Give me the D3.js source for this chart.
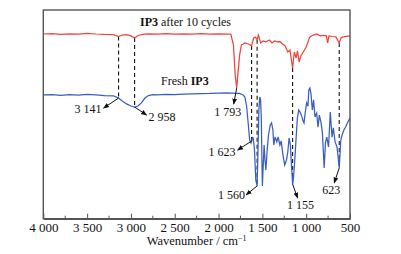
<!DOCTYPE html>
<html lang="en">
<head>
<meta charset="UTF-8">
<title>FTIR IP3</title>
<style>
  body { margin: 0; background: #fff; }
  text { font-family: "Liberation Serif", "DejaVu Serif", serif; fill: #111; }
</style>
</head>
<body>
<svg id="chart" width="401" height="254"></svg>
<script src="https://d3js.org/d3.v7.min.js"></script>
<script>
// after 10 cycles (red) - wavenumber / cm-1 and relative transmittance
const cycledWn = [4000, 3900, 3800, 3700, 3600, 3500, 3400, 3300, 3200, 3141, 3100, 3050, 3000, 2958, 2920, 2850, 2800, 2700, 2600, 2500, 2400, 2300, 2200, 2100, 2000, 1900, 1860, 1830, 1810, 1793, 1780, 1760, 1740, 1700, 1660, 1623, 1600, 1580, 1560, 1545, 1520, 1490, 1460, 1420, 1390, 1360, 1330, 1300, 1270, 1240, 1210, 1185, 1155, 1135, 1115, 1100, 1080, 1060, 1040, 1000, 960, 920, 880, 840, 800, 770, 755, 740, 700, 660, 623, 600, 560, 500];
const cycledT = [88.5, 88.7, 88.3, 88.6, 88.4, 88.8, 88.5, 88.3, 88.2, 87.3, 88.0, 88.2, 87.6, 86.6, 87.8, 88.4, 88.6, 88.5, 88.7, 88.4, 88.6, 88.5, 88.7, 88.5, 88.6, 88.5, 88.5, 83.2, 68.9, 62.6, 68.9, 78.4, 83.2, 84.2, 83.7, 82.8, 86.6, 87.0, 85.8, 88.0, 84.2, 85.2, 84.7, 85.6, 84.2, 85.2, 84.7, 84.9, 83.7, 82.8, 79.9, 80.8, 72.2, 79.9, 77.0, 80.4, 75.1, 78.0, 79.4, 82.3, 87.0, 88.0, 88.5, 87.6, 87.8, 87.6, 84.2, 87.6, 87.3, 87.1, 84.2, 86.8, 87.3, 87.6];

// fresh sample (blue)
const freshWn = [4000, 3900, 3800, 3700, 3600, 3500, 3400, 3300, 3200, 3141, 3100, 3050, 3000, 2958, 2920, 2880, 2840, 2800, 2750, 2700, 2600, 2500, 2400, 2300, 2200, 2100, 2000, 1900, 1800, 1760, 1720, 1700, 1680, 1660, 1645, 1630, 1623, 1610, 1600, 1590, 1575, 1560, 1550, 1540, 1530, 1520, 1512, 1505, 1500, 1490, 1480, 1470, 1460, 1445, 1430, 1410, 1395, 1380, 1370, 1355, 1335, 1320, 1300, 1285, 1265, 1245, 1225, 1210, 1195, 1180, 1168, 1155, 1145, 1130, 1115, 1100, 1085, 1070, 1055, 1035, 1025, 1010, 995, 980, 970, 958, 945, 930, 915, 900, 880, 865, 850, 830, 815, 795, 780, 765, 745, 725, 705, 690, 670, 648, 623, 605, 590, 570, 550, 530, 500];
const freshT = [59.3, 59.5, 59.1, 59.4, 59.2, 59.6, 59.3, 59.0, 58.9, 57.8, 56.4, 55.0, 54.0, 53.5, 54.0, 55.5, 57.8, 59.0, 59.5, 59.3, 59.6, 59.4, 59.7, 59.8, 59.9, 60.0, 60.2, 60.3, 60.1, 60.0, 59.3, 58.3, 54.0, 44.9, 37.7, 36.3, 37.2, 39.2, 37.2, 32.9, 18.5, 15.7, 32.9, 52.1, 58.3, 56.9, 47.3, 28.1, 15.7, 25.7, 35.3, 28.1, 23.3, 32.9, 40.1, 44.9, 45.9, 42.5, 35.3, 39.2, 36.8, 39.2, 35.3, 37.2, 30.5, 25.7, 28.1, 31.9, 38.7, 35.3, 25.7, 16.6, 19.5, 28.1, 38.7, 48.3, 52.1, 51.1, 49.6, 46.8, 45.9, 51.1, 55.5, 53.9, 61.7, 62.6, 59.8, 52.1, 56.9, 48.7, 50.6, 43.9, 49.6, 45.9, 41.1, 24.3, 36.3, 39.1, 34.4, 51.1, 39.1, 43.5, 36.8, 34.4, 24.3, 37.7, 40.1, 42.5, 43.9, 45.9, 48.3];

const xTicks = [4000, 3500, 3000, 2500, 2000, 1500, 1000, 500];
const xMinorTicks = [3750, 3250, 2750, 2250, 1750, 1250, 750];

// marked bands joined by dashed lines
const bandWn = [3141, 2958, 1623, 1560, 1155, 623];

// labelled peaks: which curve, arrow end offset, label offset (pixels from the peak point)
const labels = [
  { wn: 3141, series: "fresh", text: "3 141", ax: -15, ay: 10, tx: -17, ty: 15, anchor: "end" },
  { wn: 2958, series: "fresh", text: "2 958", ax: 12, ay: 8, tx: 14, ty: 14, anchor: "start" },
  { wn: 1793, series: "cycled", text: "1 793", ax: -3, ay: 16, tx: -9, ty: 28, anchor: "middle" },
  { wn: 1623, series: "fresh", text: "1 623", ax: -14, ay: 9, tx: -16, ty: 15, anchor: "end" },
  { wn: 1560, series: "fresh", text: "1 560", ax: -11, ay: 9, tx: -12, ty: 13, anchor: "end" },
  { wn: 1155, series: "fresh", text: "1 155", ax: 5, ay: 14, tx: 8, ty: 25, anchor: "middle" },
  { wn: 623, series: "fresh", text: "623", ax: -5, ay: 15, tx: -8, ty: 26, anchor: "middle" }
];

const svg = d3.select("#chart");
const plotLeft = 43.3, plotRight = 350, plotTop = 10, plotBottom = 218.7;

const x = d3.scaleLinear().domain([4000, 500]).range([plotLeft, plotRight]);
const y = d3.scaleLinear().domain([0, 100]).range([plotBottom, plotTop]);

const cycled = cycledWn.map((w, i) => ({ wn: w, t: cycledT[i] }));
const fresh = freshWn.map((w, i) => ({ wn: w, t: freshT[i] }));
const seriesMap = { cycled: cycled, fresh: fresh };

// linear lookup of a curve value at a wavenumber
function valueAt(data, wn) {
  for (let i = 0; i < data.length - 1; i++) {
    const a = data[i], b = data[i + 1];
    if (wn <= a.wn && wn >= b.wn) {
      const f = (a.wn - wn) / (a.wn - b.wn);
      return a.t + f * (b.t - a.t);
    }
  }
  return data[data.length - 1].t;
}

svg.append("defs").append("marker")
  .attr("id", "head")
  .attr("viewBox", "0 0 10 10")
  .attr("refX", 9).attr("refY", 5)
  .attr("markerWidth", 6).attr("markerHeight", 6)
  .attr("orient", "auto")
  .append("path")
  .attr("d", "M0,1 L10,5 L0,9 Z")
  .attr("fill", "#111");

// dashed band lines
svg.selectAll(".band")
  .data(bandWn)
  .enter()
  .append("line")
  .attr("x1", d => x(d)).attr("x2", d => x(d))
  .attr("y1", d => y(valueAt(cycled, d)))
  .attr("y2", d => y(valueAt(fresh, d)))
  .attr("stroke", "#111")
  .attr("stroke-width", 1.1)
  .attr("stroke-dasharray", "4,3");

const line = d3.line().x(d => x(d.wn)).y(d => y(d.t));

svg.append("path").datum(cycled)
  .attr("d", line)
  .attr("fill", "none")
  .attr("stroke", "#f2433a")
  .attr("stroke-width", 1.25);

svg.append("path").datum(fresh)
  .attr("d", line)
  .attr("fill", "none")
  .attr("stroke", "#3a5ec0")
  .attr("stroke-width", 1.25);

// frame
svg.append("rect")
  .attr("x", plotLeft).attr("y", plotTop)
  .attr("width", plotRight - plotLeft).attr("height", plotBottom - plotTop)
  .attr("fill", "none")
  .attr("stroke", "#555")
  .attr("stroke-width", 1.4);

// bottom axis, ticks pointing in
const xAxis = d3.axisBottom(x)
  .tickValues(xTicks)
  .tickSizeInner(-5)
  .tickSizeOuter(0)
  .tickPadding(4)
  .tickFormat(d => d3.format(",")(d).replace(",", " "));

const gx = svg.append("g")
  .attr("transform", `translate(0,${plotBottom})`)
  .call(xAxis);
gx.select(".domain").attr("stroke", "#555").attr("stroke-width", 1.4);
gx.selectAll(".tick line").attr("stroke", "#555");
gx.selectAll(".tick text")
  .attr("font-family", "Liberation Serif")
  .attr("font-size", 13)
  .attr("fill", "#111");

svg.append("g").selectAll("line")
  .data(xMinorTicks)
  .enter()
  .append("line")
  .attr("x1", d => x(d)).attr("x2", d => x(d))
  .attr("y1", plotBottom).attr("y2", plotBottom - 3)
  .attr("stroke", "#555");

const xt = svg.append("text")
  .attr("x", (plotLeft + plotRight) / 2)
  .attr("y", 245)
  .attr("text-anchor", "middle")
  .attr("font-size", 12.5);
xt.append("tspan").text("Wavenumber / cm");
xt.append("tspan").attr("dy", -4).attr("font-size", 8).text("\u22121");

// series names
const t1 = svg.append("text").attr("x", 140).attr("y", 26).attr("font-size", 12);
t1.append("tspan").attr("font-weight", "bold").text("IP3");
t1.append("tspan").text(" after 10 cycles");

const t2 = svg.append("text").attr("x", 161).attr("y", 85).attr("font-size", 12);
t2.append("tspan").text("Fresh ");
t2.append("tspan").attr("font-weight", "bold").text("IP3");

// peak labels with arrows
const ann = svg.append("g").selectAll("g")
  .data(labels)
  .enter()
  .append("g");

ann.append("line")
  .attr("x1", d => x(d.wn))
  .attr("y1", d => y(valueAt(seriesMap[d.series], d.wn)))
  .attr("x2", d => x(d.wn) + d.ax)
  .attr("y2", d => y(valueAt(seriesMap[d.series], d.wn)) + d.ay)
  .attr("stroke", "#111")
  .attr("stroke-width", 1)
  .attr("marker-end", "url(#head)");

ann.append("text")
  .attr("x", d => x(d.wn) + d.tx)
  .attr("y", d => y(valueAt(seriesMap[d.series], d.wn)) + d.ty)
  .attr("text-anchor", d => d.anchor)
  .attr("font-size", 12)
  .text(d => d.text);
</script>
</body>
</html>
